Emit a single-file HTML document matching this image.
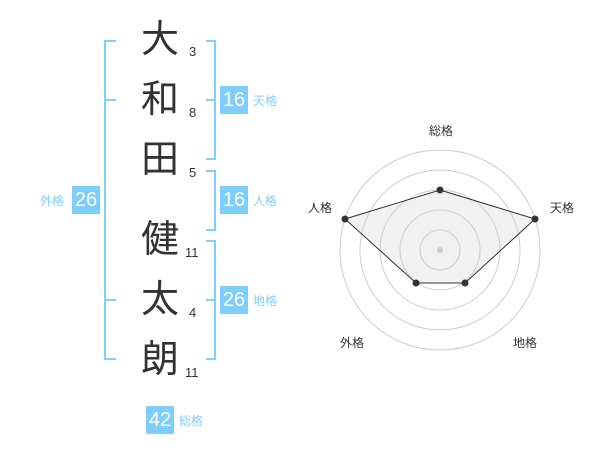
<!DOCTYPE html><html><head><meta charset="utf-8"><style>
body{margin:0;width:600px;height:470px;background:#fff;position:relative;font-family:"Liberation Sans","Noto Sans CJK JP",sans-serif;overflow:hidden}
.k{position:absolute;left:140px;width:40px;text-align:center;font-size:38px;line-height:40px;color:#333}
.n{position:absolute;font-size:13px;color:#333;line-height:14px}
.b{position:absolute;background:#7fcdfd;color:#fff;font-size:20px;width:28px;height:28px;line-height:28px;text-align:center}
.l{position:absolute;color:#7fcdfd;font-size:12px;line-height:14px}
.v{position:absolute;background:#7fcdfd}
</style></head><body>
<div class="k" style="top:20px">大</div>
<div class="k" style="top:80px">和</div>
<div class="k" style="top:140px">田</div>
<div class="k" style="top:220px">健</div>
<div class="k" style="top:280px">太</div>
<div class="k" style="top:340px">朗</div>
<div class="n" style="left:189px;top:45px">3</div>
<div class="n" style="left:189px;top:106px">8</div>
<div class="n" style="left:189px;top:166px">5</div>
<div class="n" style="left:185px;top:246px">11</div>
<div class="n" style="left:189px;top:306px">4</div>
<div class="n" style="left:185px;top:366px">11</div>
<!-- left bracket -->
<div class="v" style="left:104px;top:40px;width:2px;height:320px"></div>
<div class="v" style="left:104px;top:40px;width:12px;height:2px"></div>
<div class="v" style="left:104px;top:99px;width:12px;height:2px"></div>
<div class="v" style="left:104px;top:299px;width:12px;height:2px"></div>
<div class="v" style="left:104px;top:358px;width:12px;height:2px"></div>
<!-- right brackets -->
<div class="v" style="left:214px;top:40px;width:2px;height:120px"></div>
<div class="v" style="left:206px;top:40px;width:10px;height:2px"></div>
<div class="v" style="left:206px;top:99px;width:10px;height:2px"></div>
<div class="v" style="left:206px;top:158px;width:10px;height:2px"></div>
<div class="v" style="left:214px;top:170px;width:2px;height:60px"></div>
<div class="v" style="left:206px;top:170px;width:10px;height:2px"></div>
<div class="v" style="left:206px;top:229px;width:10px;height:2px"></div>
<div class="v" style="left:214px;top:240px;width:2px;height:120px"></div>
<div class="v" style="left:206px;top:240px;width:10px;height:2px"></div>
<div class="v" style="left:206px;top:299px;width:10px;height:2px"></div>
<div class="v" style="left:206px;top:358px;width:10px;height:2px"></div>
<div class="b" style="left:220px;top:86px">16</div><div class="l" style="left:253px;top:94px">天格</div>
<div class="b" style="left:220px;top:186px">16</div><div class="l" style="left:253px;top:194px">人格</div>
<div class="b" style="left:220px;top:286px">26</div><div class="l" style="left:253px;top:294px">地格</div>
<div class="b" style="left:72px;top:186px">26</div><div class="l" style="left:40px;top:194px">外格</div>
<div class="b" style="left:146px;top:406px">42</div><div class="l" style="left:179px;top:414px">総格</div>
<svg style="position:absolute;left:0;top:0" width="600" height="470">
<g fill="none" stroke="#ccc" stroke-width="1">
<circle cx="440" cy="250" r="100"/><circle cx="440" cy="250" r="80"/><circle cx="440" cy="250" r="60"/><circle cx="440" cy="250" r="40"/><circle cx="440" cy="250" r="20"/></g>
<circle cx="440" cy="250" r="3" fill="#ccc"/>
<polygon points="440,190 535,219 465,283 416,283 345,219" fill="rgba(200,200,200,0.25)" stroke="#333" stroke-width="1"/>
<g fill="#333"><circle cx="440" cy="190" r="3.5"/><circle cx="535" cy="219" r="3.5"/><circle cx="465" cy="283" r="3.5"/><circle cx="416" cy="283" r="3.5"/><circle cx="345" cy="219" r="3.5"/></g>
<g font-size="12" fill="#333" font-family="Liberation Sans,Noto Sans CJK JP,sans-serif" text-anchor="middle">
<text x="441" y="135">総格</text><text x="562" y="212">天格</text><text x="320" y="212">人格</text><text x="525" y="347">地格</text><text x="352" y="347">外格</text></g>
</svg>
</body></html>
